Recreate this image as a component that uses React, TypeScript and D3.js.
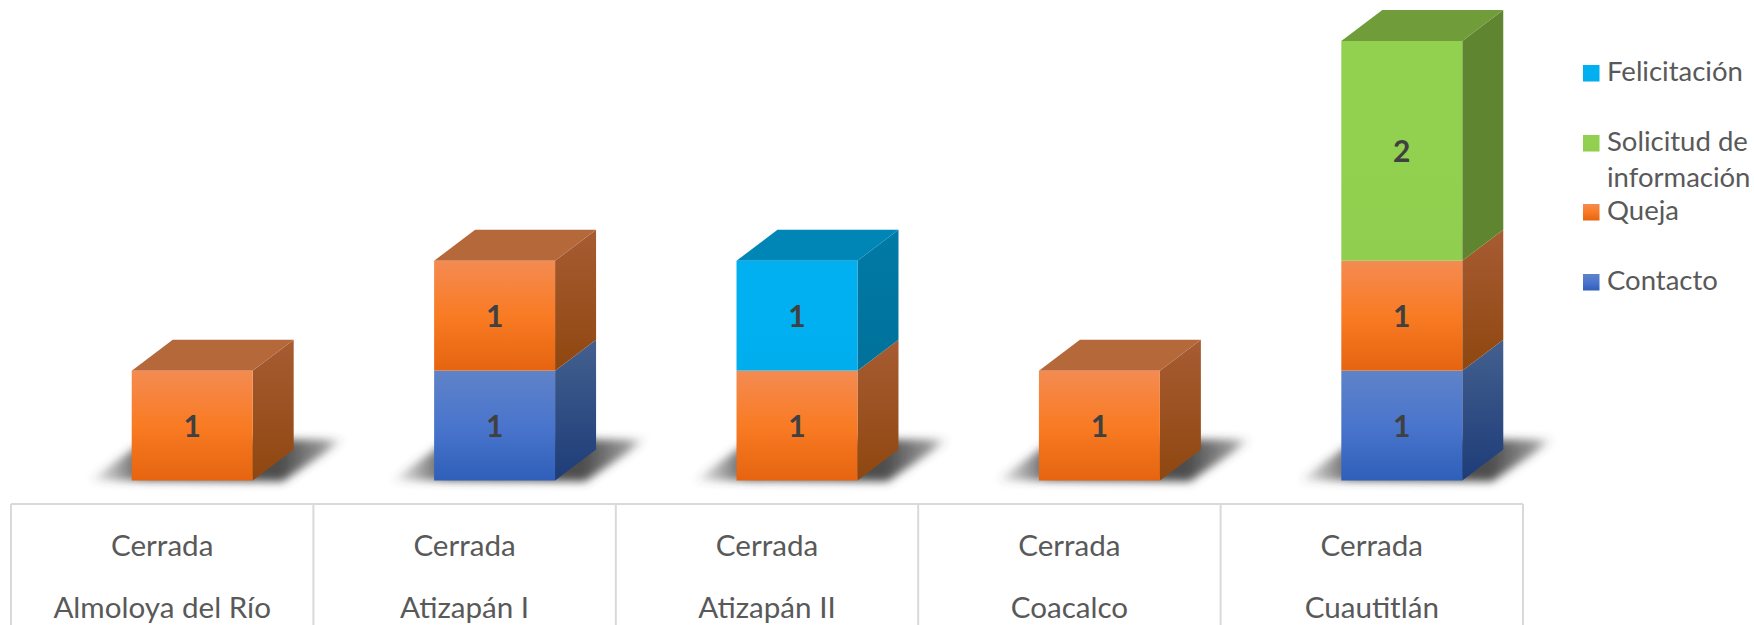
import React from "react";
import * as d3 from "d3";

const outerLabels = ["Cerrada", "Cerrada", "Cerrada", "Cerrada", "Cerrada"];
const categories = ["Almoloya del Río", "Atizapán I", "Atizapán II", "Coacalco", "Cuautitlán"];
const contacto = [0, 1, 0, 0, 1];
const queja = [1, 1, 1, 1, 1];
const solicitud = [0, 0, 0, 0, 2];
const felicitacion = [0, 0, 1, 0, 0];
const seriesKeys = ["Contacto", "Queja", "Solicitud de información", "Felicitación"];
const seriesValues = [contacto, queja, solicitud, felicitacion];

const styles: Record<string, any> = {
  Contacto: { id: "c", front: ["#5f83c8", "#4a75cd", "#2f5fb9"], side: ["#43608f", "#1e3c78"], top: "#3f6099" },
  Queja: { id: "q", front: ["#f48b52", "#f97b24", "#e6640f"], side: ["#a75c32", "#8f4710"], top: "#b5693b" },
  "Solicitud de información": { id: "s", front: ["#92d050", "#92d050", "#8fce4e"], side: ["#5f8531", "#5f8531"], top: "#709c39" },
  "Felicitación": { id: "f", front: ["#00b0f0", "#00b0f0", "#00aeee"], side: ["#007aa6", "#00719b"], top: "#0086b6" },
};

const W = 1754, H = 625;
const FONT = "Lato, 'Open Sans', sans-serif";
const depthX = 41, depthY = 31;

export default function App() {
  const rows = categories.map((c, i) => {
    const r: Record<string, any> = { c };
    seriesKeys.forEach((k, s) => (r[k] = seriesValues[s][i]));
    return r;
  });
  const stacked = d3.stack<any>().keys(seriesKeys)(rows);
  const x = d3.scaleBand<string>().domain(categories).range([11, 1523]);
  const y = d3.scaleLinear().domain([0, 4]).range([480.5, 41]);
  const frontW = x.bandwidth() * 0.4;
  const frontX = (c: string) => (x(c) as number) + x.bandwidth() / 2 + 30 - frontW / 2;
  const topOf = categories.map((_, i) => d3.max(stacked, (l) => (l[i][1] > l[i][0] ? l[i][1] : 0)) as number);
  const floor = y(0);
  const poly = d3.line();
  const legendY: Record<string, number> = { "Felicitación": 65, "Solicitud de información": 135, Queja: 204, Contacto: 274 };

  return (
    <svg width={W} height={H} style={{ position: "absolute", left: 0, top: 0, background: "#fff" }} fontFamily={FONT}>
      <defs>
        {seriesKeys.map((k) => (
          <React.Fragment key={k}>
            <linearGradient id={`front-${styles[k].id}`} x1="0" y1="0" x2="0" y2="1">
              <stop offset="0" stopColor={styles[k].front[0]} />
              <stop offset="0.5" stopColor={styles[k].front[1]} />
              <stop offset="1" stopColor={styles[k].front[2]} />
            </linearGradient>
            <linearGradient id={`side-${styles[k].id}`} x1="0" y1="0" x2="0" y2="1">
              <stop offset="0" stopColor={styles[k].side[0]} />
              <stop offset="1" stopColor={styles[k].side[1]} />
            </linearGradient>
          </React.Fragment>
        ))}
        <linearGradient id="shadow" x1="0" y1="0" x2="1" y2="0">
          <stop offset="0" stopColor="#444" stopOpacity="0.05" />
          <stop offset="0.22" stopColor="#444" stopOpacity="0.9" />
          <stop offset="0.75" stopColor="#444" stopOpacity="0.95" />
          <stop offset="0.92" stopColor="#444" stopOpacity="0.55" />
          <stop offset="1" stopColor="#444" stopOpacity="0" />
        </linearGradient>
        <filter id="blur" x="-20%" y="-50%" width="140%" height="200%">
          <feGaussianBlur stdDeviation="4" />
        </filter>
      </defs>

      {/* floor shadows */}
      {categories.map((c) => {
        const x0 = frontX(c);
        return (
          <path
            key={c}
            d={poly([
              [x0 - 42, floor],
              [x0 + 15, floor - depthY - 10],
              [x0 + frontW + 92, floor - depthY - 10],
              [x0 + frontW + 30, floor + 1],
            ]) as string}
            fill="url(#shadow)"
            filter="url(#blur)"
          />
        );
      })}

      {/* bars */}
      {categories.map((c, i) => {
        const x0 = frontX(c);
        const x1 = x0 + frontW;
        return (
          <g key={c}>
            {stacked.map((layer) => {
              const [a, b] = layer[i];
              if (b <= a) return null;
              const st = styles[layer.key];
              const yb = y(a), yt = y(b);
              return (
                <g key={layer.key}>
                  <path
                    d={poly([[x1, yt], [x1 + depthX, yt - depthY], [x1 + depthX, yb - depthY], [x1, yb]]) as string}
                    fill={`url(#side-${st.id})`}
                  />
                  {b === topOf[i] && (
                    <path
                      d={poly([[x0, yt], [x0 + depthX, yt - depthY], [x1 + depthX, yt - depthY], [x1, yt]]) as string}
                      fill={st.top}
                    />
                  )}
                  <rect x={x0} y={yt} width={frontW} height={yb - yt} fill={`url(#front-${st.id})`} />
                </g>
              );
            })}
            {stacked.map((layer) => {
              const [a, b] = layer[i];
              if (b <= a) return null;
              return (
                <text
                  key={layer.key}
                  x={(x0 + x1) / 2}
                  y={(y(a) + y(b)) / 2 + 11}
                  textAnchor="middle"
                  fontSize={30}
                  fontWeight={700}
                  fill="#404040"
                >
                  {b - a}
                </text>
              );
            })}
          </g>
        );
      })}

      {/* category table */}
      <line x1={x.range()[0]} x2={x.range()[1]} y1={504} y2={504} stroke="#d9d9d9" strokeWidth={2} />
      {[...categories.map((c) => x(c) as number), x.range()[1]].map((v, i) => (
        <line key={i} x1={v} x2={v} y1={504} y2={H} stroke="#d9d9d9" strokeWidth={2} />
      ))}
      {categories.map((c, i) => (
        <g key={c} textAnchor="middle" fontSize={29.6} fill="#595959">
          <text x={(x(c) as number) + x.bandwidth() / 2} y={556}>{outerLabels[i]}</text>
          <text x={(x(c) as number) + x.bandwidth() / 2} y={618}>{c}</text>
        </g>
      ))}

      {/* legend */}
      {seriesKeys.map((k) => {
        const ly = legendY[k];
        const words = k === "Solicitud de información" ? ["Solicitud de", "información"] : [k];
        return (
          <g key={k}>
            <rect x={1583} y={ly} width={16.5} height={16.5} fill={`url(#front-${styles[k].id})`} />
            {words.map((w, j) => (
              <text key={w} x={1607} y={ly + 16 + j * 36} fontSize={27.5} fill="#595959">{w}</text>
            ))}
          </g>
        );
      })}
    </svg>
  );
}
